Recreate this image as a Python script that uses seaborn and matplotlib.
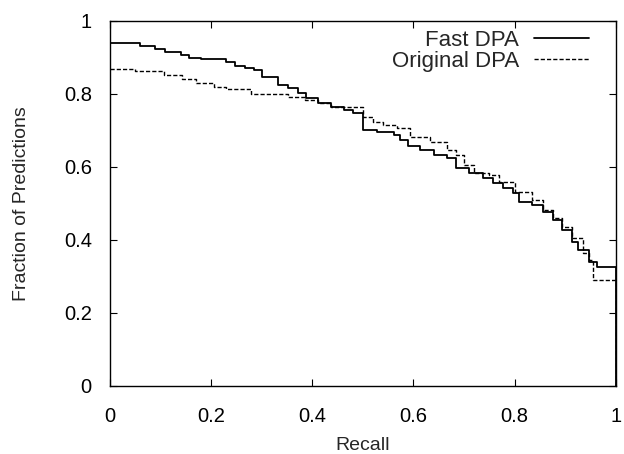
import matplotlib
matplotlib.use('Agg')
import matplotlib.pyplot as plt
import seaborn as sns

# Step curves (recall where each step starts, fraction after it)
fast_x = [0, 0.06, 0.09, 0.11, 0.14, 0.157, 0.18, 0.23, 0.248, 0.268, 0.284, 0.30,
          0.333, 0.352, 0.372, 0.388, 0.411, 0.437, 0.463, 0.48, 0.50, 0.528, 0.561,
          0.574, 0.59, 0.613, 0.64, 0.666, 0.685, 0.71, 0.737, 0.757, 0.777, 0.796,
          0.808, 0.835, 0.855, 0.875, 0.894, 0.914, 0.926, 0.946, 0.962, 1.0]
fast_y = [0.94, 0.932, 0.923, 0.916, 0.907, 0.898, 0.896, 0.888, 0.877, 0.871, 0.866, 0.847,
          0.825, 0.816, 0.802, 0.789, 0.775, 0.765, 0.756, 0.748, 0.70, 0.695, 0.688,
          0.674, 0.658, 0.647, 0.633, 0.625, 0.597, 0.583, 0.57, 0.556, 0.542, 0.529,
          0.504, 0.496, 0.477, 0.455, 0.427, 0.395, 0.373, 0.34, 0.325, 0.0]

orig_x = [0, 0.05, 0.108, 0.143, 0.17, 0.205, 0.229, 0.278, 0.352, 0.385, 0.411, 0.437,
          0.50, 0.52, 0.54, 0.567, 0.593, 0.633, 0.666, 0.685, 0.70, 0.72, 0.75, 0.77,
          0.80, 0.835, 0.855, 0.875, 0.894, 0.914, 0.935, 0.946, 0.955, 1.0]
orig_y = [0.868, 0.863, 0.852, 0.841, 0.830, 0.819, 0.814, 0.80, 0.792, 0.784, 0.775, 0.765,
          0.737, 0.724, 0.715, 0.707, 0.682, 0.668, 0.647, 0.633, 0.605, 0.583, 0.578, 0.559,
          0.532, 0.51, 0.482, 0.46, 0.436, 0.405, 0.364, 0.345, 0.29, 0.0]

ticks = [0, 0.2, 0.4, 0.6, 0.8, 1]
tick_labels = ['0', '0.2', '0.4', '0.6', '0.8', '1']

sns.set_style('ticks')
plt.rcParams['font.family'] = ['Liberation Sans', 'DejaVu Sans']

fig = plt.figure(figsize=(6.24, 4.54), dpi=100)
ax = fig.add_axes([0.176, 0.15, 0.811, 0.804])

sns.lineplot(x=fast_x, y=fast_y, ax=ax, color='black', lw=1.3,
             drawstyle='steps-post', label='Fast DPA', sort=False)
sns.lineplot(x=orig_x, y=orig_y, ax=ax, color='black', lw=1.0,
             linestyle=(0, (3, 1.5)), drawstyle='steps-post',
             label='Original DPA', sort=False)

ax.set_xlim(0, 1)
ax.set_ylim(0, 1)
ax.set_xticks(ticks)
ax.set_xticklabels(tick_labels)
ax.set_yticks(ticks)
ax.set_yticklabels(tick_labels)
ax.tick_params(direction='in', top=True, right=True, length=5, width=0.8,
               labelsize=14.5, colors='black')
ax.tick_params(axis='x', pad=15)
ax.tick_params(axis='y', pad=13)
for s in ax.spines.values():
    s.set_linewidth(1.0)
    s.set_color('black')

ax.set_xlabel('Recall', fontsize=14, labelpad=8)
ax.set_ylabel('Fraction of Predictions', fontsize=14, labelpad=24)

ax.legend(loc='upper right', bbox_to_anchor=(0.965, 1.0), frameon=False,
          markerfirst=False, fontsize=16, handlelength=2.5, labelspacing=0.0,
          borderaxespad=0.0, handletextpad=0.65)

fig.savefig('out.png', dpi=100)
